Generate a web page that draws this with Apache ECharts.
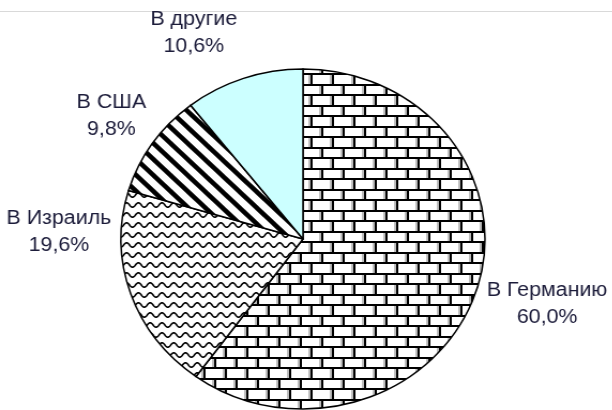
<!DOCTYPE html>
<html>
<head>
<meta charset="utf-8">
<script src="https://cdn.jsdelivr.net/npm/echarts@6/dist/echarts.min.js"></script>
<style>
  html, body { margin: 0; padding: 0; background: #fff; overflow: hidden; }
  /* the pie is drawn slightly wider than tall, so the chart is stretched horizontally */
  #chart { width: 572px; height: 410px; transform: scaleX(1.0706); transform-origin: 0 0; }
</style>
</head>
<body>
<div id="chart"></div>
<script>
// Emigration destinations, share of total (%)
const categories = ['В Германию', 'В Израиль', 'В США', 'В другие'];
const shares = [60.0, 19.6, 9.8, 10.6];

// label anchor points (chart coordinates, before horizontal stretch)
const labelAnchors = [[511, 304], [55, 232], [104, 116], [181, 33]];

function makeCanvas(w, h) {
  const c = document.createElement('canvas');
  c.width = w; c.height = h;
  const ctx = c.getContext('2d');
  ctx.fillStyle = '#ffffff';
  ctx.fillRect(0, 0, w, h);
  return [c, ctx];
}

// brick hatch
function brickPattern() {
  const [c, ctx] = makeCanvas(40, 21);
  ctx.fillStyle = '#000';
  ctx.fillRect(0, 0, 40, 2);
  ctx.fillRect(0, 10, 40, 2);
  ctx.fillRect(0, 0, 2, 10);
  ctx.fillRect(20, 0, 2, 10);
  ctx.fillRect(10, 10, 2, 11);
  ctx.fillRect(30, 10, 2, 11);
  ctx.fillStyle = '#bdbdbd';
  ctx.fillRect(18, 2, 2, 8);
  ctx.fillRect(38, 2, 2, 8);
  ctx.fillRect(8, 12, 2, 9);
  ctx.fillRect(28, 12, 2, 9);
  return c;
}

// wavy hatch
function wavePattern() {
  const w = 11, h = 10;
  const [c, ctx] = makeCanvas(w, h);
  ctx.strokeStyle = '#000';
  ctx.lineWidth = 1.6;
  for (const oy of [-h, 0, h]) {
    ctx.beginPath();
    for (let x = -2; x <= w + 2; x += 0.5) {
      const y = oy + 5 + 2.3 * Math.sin(2 * Math.PI * x / w);
      if (x === -2) ctx.moveTo(x, y); else ctx.lineTo(x, y);
    }
    ctx.stroke();
  }
  return c;
}

// wide downward diagonal hatch
function stripePattern() {
  const w = 16, h = 16;
  const [c, ctx] = makeCanvas(w, h);
  ctx.strokeStyle = '#000';
  ctx.lineWidth = 4.5;
  for (let k = -2; k <= 2; k++) {
    ctx.beginPath();
    ctx.moveTo(-w, -h + k * h);
    ctx.lineTo(2 * w, 2 * h + k * h);
    ctx.stroke();
  }
  return c;
}

const fills = [
  { image: brickPattern(), repeat: 'repeat' },
  { image: wavePattern(), repeat: 'repeat' },
  { image: stripePattern(), repeat: 'repeat' },
  '#ccffff'
];

const chart = echarts.init(document.getElementById('chart'), null, { renderer: 'canvas' });

chart.setOption({
  animation: false,
  backgroundColor: '#ffffff',
  graphic: [{
    type: 'line',
    shape: { x1: 0, y1: 11.5, x2: 572, y2: 11.5 },
    style: { stroke: '#d9d9d9', lineWidth: 1 },
    silent: true
  }],
  series: [{
    type: 'pie',
    center: [283, 239],
    radius: 170,
    startAngle: 90,
    clockwise: true,
    data: categories.map((name, i) => ({
      name,
      value: shares[i],
      itemStyle: { color: fills[i] }
    })),
    itemStyle: { borderColor: '#000', borderWidth: 1.5 },
    emphasis: { disabled: true },
    label: {
      show: true,
      position: 'outside',
      overflow: 'none',
      formatter: p => p.name + '\n' + p.value.toFixed(1).replace('.', ',') + '%',
      fontFamily: '"Liberation Sans", Arial, sans-serif',
      fontSize: 20,
      lineHeight: 27,
      color: '#1c1c3a',
      align: 'center'
    },
    labelLine: { show: false },
    labelLayout: p => ({
      x: labelAnchors[p.dataIndex][0],
      y: labelAnchors[p.dataIndex][1],
      align: 'center',
      verticalAlign: 'middle',
      width: 200
    })
  }]
});
</script>
</body>
</html>
